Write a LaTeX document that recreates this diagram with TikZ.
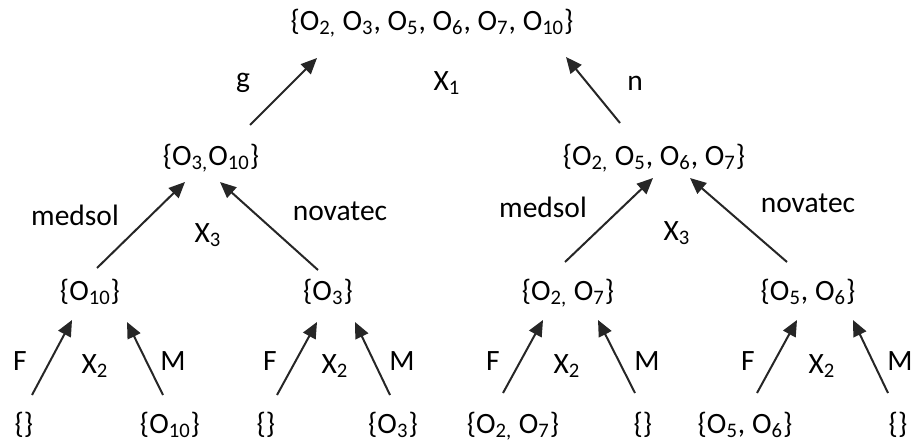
\documentclass[tikz,border=0pt]{standalone}
\usepackage{fontspec}
\setmainfont{Carlito}
\usetikzlibrary{arrows.meta}
\newcommand{\ob}[1]{O\textsubscript{#1}}
\tikzset{
	set/.style={inner sep=0pt, text height=0.75em, text depth=0.2em},
	lbl/.style={inner sep=0pt, text height=0.75em, text depth=0.2em},
	arr/.style={-{Triangle[length=8pt, width=7pt]}, line width=1pt, black!85},
}
\begin{document}
\begin{tikzpicture}[x=0.5pt, y=-0.5pt, font=\fontsize{14.75}{17}\selectfont]
	\useasboundingbox (0,0) rectangle (914,445);
	% ---- sets ----
	\node[set] (T) at (432,25) {\{\ob{2,} \ob{3}, \ob{5}, \ob{6}, \ob{7}, \ob{10}\}};
	\node[set] (A) at (211,160) {\{\ob{3,}\ob{10}\}};
	\node[set] (B) at (654,160) {\{\ob{2,} \ob{5}, \ob{6}, \ob{7}\}};
	\node[set] (A1) at (90,295) {\{\ob{10}\}};
	\node[set] (A2) at (328,295) {\{\ob{3}\}};
	\node[set] (B1) at (568,295) {\{\ob{2,} \ob{7}\}};
	\node[set] (B2) at (808,295) {\{\ob{5}, \ob{6}\}};
	\node[set] (a11) at (24,428) {\{\}};
	\node[set] (a12) at (170,428) {\{\ob{10}\}};
	\node[set] (a21) at (266,428) {\{\}};
	\node[set] (a22) at (393,428) {\{\ob{3}\}};
	\node[set] (b11) at (513,428) {\{\ob{2,} \ob{7}\}};
	\node[set] (b12) at (643,428) {\{\}};
	\node[set] (b21) at (745,428) {\{\ob{5}, \ob{6}\}};
	\node[set] (b22) at (898,428) {\{\}};
	% ---- arrows ----
	\draw[arr] ([shift={(39,-35)}]A.center) -- ([shift={(-115,33)}]T.center);
	\draw[arr] ([shift={(-34,-37)}]B.center) -- ([shift={(134,32)}]T.center);
	\draw[arr] ([shift={(7,-27)}]A1.center) -- ([shift={(-26,22)}]A.center);
	\draw[arr] ([shift={(-10,-25)}]A2.center) -- ([shift={(9,22)}]A.center);
	\draw[arr] ([shift={(-3,-33)}]B1.center) -- ([shift={(-1,18)}]B.center);
	\draw[arr] ([shift={(-21,-33)}]B2.center) -- ([shift={(36,18)}]B.center);
	\draw[arr] ([shift={(8,-33)}]a11.center) -- ([shift={(-18,25)}]A1.center);
	\draw[arr] ([shift={(-7,-33)}]a12.center) -- ([shift={(37,27)}]A1.center);
	\draw[arr] ([shift={(11,-33)}]a21.center) -- ([shift={(-11,27)}]A2.center);
	\draw[arr] ([shift={(-3,-33)}]a22.center) -- ([shift={(27,27)}]A2.center);
	\draw[arr] ([shift={(-10,-35)}]b11.center) -- ([shift={(-25,25)}]B1.center);
	\draw[arr] ([shift={(-8,-35)}]b12.center) -- ([shift={(30,25)}]B1.center);
	\draw[arr] ([shift={(12,-35)}]b21.center) -- ([shift={(-11,25)}]B2.center);
	\draw[arr] ([shift={(-10,-35)}]b22.center) -- ([shift={(45,25)}]B2.center);
	% ---- labels ----
	\node[lbl] (g) at (243,82) {g};
	\node[lbl] (x1) at (447,85) {X\textsubscript{1}};
	\node[lbl] (n) at (635,85) {n};
	\node[lbl] (medA) at (75,220) {medsol};
	\node[lbl] (novA) at (340,215) {novatec};
	\node[lbl] (x3A) at (208,237) {X\textsubscript{3}};
	\node[lbl] (medB) at (543,212) {medsol};
	\node[lbl] (novB) at (808,207) {novatec};
	\node[lbl] (x3B) at (677,235) {X\textsubscript{3}};
	\node[lbl] (fA1) at (20,365) {F};
	\node[lbl] (x2A1) at (95,368) {X\textsubscript{2}};
	\node[lbl] (mA1) at (173,365) {M};
	\node[lbl] (fA2) at (270,365) {F};
	\node[lbl] (x2A2) at (335,368) {X\textsubscript{2}};
	\node[lbl] (mA2) at (402,365) {M};
	\node[lbl] (fB1) at (493,365) {F};
	\node[lbl] (x2B1) at (567,368) {X\textsubscript{2}};
	\node[lbl] (mB1) at (647,365) {M};
	\node[lbl] (fB2) at (748,365) {F};
	\node[lbl] (x2B2) at (822,368) {X\textsubscript{2}};
	\node[lbl] (mB2) at (900,365) {M};
\end{tikzpicture}
\end{document}
